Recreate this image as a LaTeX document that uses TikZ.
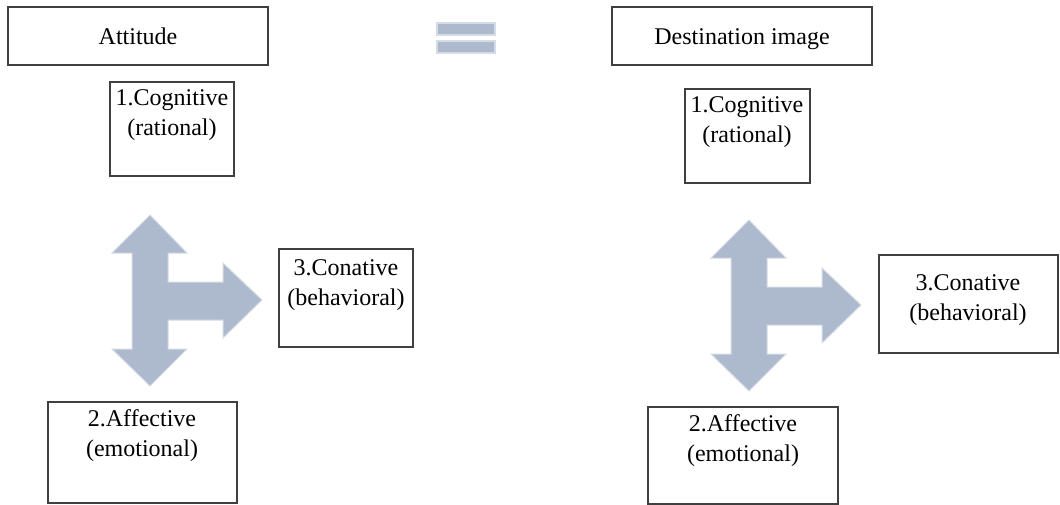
\documentclass[tikz,border=0pt]{standalone}
\usepackage{fontspec}
\setmainfont{Liberation Serif}
\begin{document}
\begin{tikzpicture}[x=1pt,y=-1pt,
  box/.style={draw=black!75,line width=1.1pt,fill=white},
  txt/.style={align=center,font=\fontsize{24}{30}\selectfont,inner sep=0pt},
  bigarrow/.style={fill=arrowfill,draw=arrowedge,line width=1pt,line join=miter},
  eqbar/.style={fill=arrowfill,draw=arrowedge,line width=2.5pt}]
\definecolor{arrowfill}{HTML}{ADB9CC}
\definecolor{arrowedge}{HTML}{D6DCE6}
\useasboundingbox[fill=white] (0,0) rectangle (1060,504);

% title boxes and the equals sign between them
\draw[box] (8,7) rectangle (268,65);
\node[txt,anchor=base] (att) at (138,44) {Attitude};
\draw[eqbar] (437,23) rectangle (495,35);
\draw[eqbar] (437,41) rectangle (495,53);
\draw[box] (612,7) rectangle (872,65);
\node[txt,anchor=base] (dest) at (742,44) {Destination image};

% left triad
\draw[box] (110,82) rectangle (234,176);
\node[txt] (cogL) at (172,115) {1.Cognitive\\(rational)};
\draw[box] (279,249) rectangle (413,347);
\node[txt] (conL) at (346,285) {3.Conative\\(behavioral)};
\draw[box] (48,402) rectangle (237,503);
\node[txt] (affL) at (142,436) {2.Affective\\(emotional)};

% right triad
\draw[box] (685,89) rectangle (810,183);
\node[txt] (cogR) at (747,122) {1.Cognitive\\(rational)};
\draw[box] (879,255) rectangle (1058,353);
\node[txt] (conR) at (968,300) {3.Conative\\(behavioral)};
\draw[box] (648,407) rectangle (838,504);
\node[txt] (affR) at (743,441) {2.Affective\\(emotional)};

% three-way block arrows
\foreach \dx/\dy in {0/0, 599/5}{
\begin{scope}[shift={(\dx,\dy)}]
\draw[bigarrow] (150,215) -- (187,253) -- (168,253) -- (168,282) -- (223,282)
  -- (223,263) -- (262,300) -- (223,338) -- (223,320) -- (168,320) -- (168,349)
  -- (187,349) -- (150,386) -- (112,349) -- (132,349) -- (132,253) -- (112,253) -- cycle;
\end{scope}}
\end{tikzpicture}
\end{document}
